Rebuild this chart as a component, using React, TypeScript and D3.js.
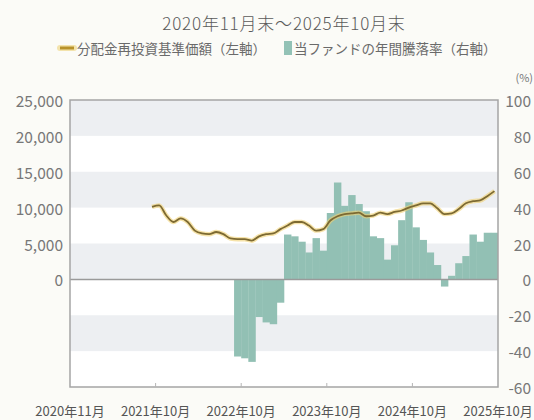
import React from "react";
import * as d3 from "d3";

const months: Date[] = d3.timeMonths(new Date(2020, 10, 1), new Date(2025, 10, 1));

// 分配金再投資基準価額 (left axis, yen) — Oct 2021 .. Oct 2025 (index 11..59)
const navStartIndex = 11;
const navValues: number[] = [
  10100, 10300, 8900, 8000, 8500, 8000, 6800, 6400, 6300, 6600, 6300, 5700, 5600,
  5600, 5400, 6000, 6300, 6400, 7000, 7500, 8000, 8000, 7500, 6800, 7000, 8200,
  8800, 9100, 9200, 9300, 8800, 8900, 9300, 9100, 9400, 9600, 10000, 10300, 10600,
  10600, 9900, 9100, 9200, 9800, 10600, 10900, 11000, 11600, 12300,
];

// 当ファンドの年間騰落率 (right axis, %) — Oct 2022 .. Oct 2025 (index 23..59)
const retStartIndex = 23;
const retValues: number[] = [
  -43, -44, -46, -21, -24, -25, -13, 25, 24, 21, 15, 23, 16, 37, 54, 41, 47, 42, 38,
  24, 23, 11, 19, 33, 43, 29, 22, 15, 8, -4, 2, 9, 13, 25, 21, 26, 26,
];

const leftTicks: number[] = [0, 5000, 10000, 15000, 20000, 25000];
const rightTicks: number[] = [100, 80, 60, 40, 20, 0, -20, -40, -60];
const xTickLabels: string[] = ["2020年11月", "2021年10月", "2022年10月", "2023年10月", "2024年10月", "2025年10月"];
const xTickMonths: string[] = ["2020-11", "2021-10", "2022-10", "2023-10", "2024-10", "2025-10"];

const title = "2020年11月末～2025年10月末";
const legendLine = "分配金再投資基準価額（左軸）";
const legendBar = "当ファンドの年間騰落率（右軸）";

const W = 534;
const H = 420;
const L = 70, R = 498, T = 100, B = 387;
const FONT = "'Noto Sans CJK JP', 'Noto Sans', sans-serif";
const fmtKey = d3.timeFormat("%Y-%m");

export default function App() {
  const x = d3.scaleBand<string>().domain(months.map(fmtKey)).range([L, R]).padding(0);
  const yL = d3.scaleLinear().domain([-15000, 25000]).range([B, T]);
  const yR = d3.scaleLinear().domain([-60, 100]).range([B, T]);
  const bw = x.bandwidth();

  const navPts = navValues.map((v, k) => ({ key: fmtKey(months[navStartIndex + k]), v }));
  const line = d3
    .line<{ key: string; v: number }>()
    .x((d) => (x(d.key) as number) + bw / 2)
    .y((d) => yL(d.v))
    .curve(d3.curveMonotoneX);
  const path = line(navPts) || "";

  const bands: [number, number][] = [];
  for (let t = 100; t > -60; t -= 40) bands.push([t, t - 20]);

  const tickX = (k: string, idx: number) =>
    idx === 0 ? (x(k) as number) : (x(k) as number) + bw;

  return (
    <svg width={W} height={H} style={{ position: "absolute", left: 0, top: 0, background: "#fbfbf7" }} fontFamily={FONT}>
      <rect x={0} y={0} width={W} height={H} fill="#fbfbf7" />
      <text x={(L + R) / 2} y={22} textAnchor="middle" dominantBaseline="central" fontSize={17} letterSpacing={0.8} fill="#5a5a5a" fontWeight={300}>
        {title}
      </text>
      {/* legend */}
      <g>
        <line x1={60} x2={74} y1={48} y2={48} stroke="#f2de9a" strokeWidth={6} strokeLinecap="round" opacity={0.8} />
        <line x1={60} x2={74} y1={48} y2={48} stroke="#b8922a" strokeWidth={3} />
        <text x={77} y={48} dominantBaseline="central" fontSize={13.5} fill="#6a6a6a">{legendLine}</text>
        <rect x={284} y={41} width={8} height={14} fill="#93c2b6" />
        <text x={294} y={48} dominantBaseline="central" fontSize={13.5} fill="#6a6a6a">{legendBar}</text>
      </g>
      {/* plot background */}
      <rect x={L} y={T} width={R - L} height={B - T} fill="#ffffff" />
      {bands.map(([a, b], i) => (
        <rect key={i} x={L} y={yR(a)} width={R - L} height={yR(b) - yR(a)} fill="#edeff2" />
      ))}
      <defs>
        <clipPath id="plotclip">
          <rect x={L} y={T} width={R - L} height={B - T} />
        </clipPath>
      </defs>
      <g clipPath="url(#plotclip)">
        {retValues.map((v, k) => {
          const key = fmtKey(months[retStartIndex + k]);
          const y0 = yR(0);
          const y1 = yR(v);
          return (
            <rect
              key={key}
              x={x(key) as number}
              width={bw + 0.3}
              y={Math.min(y0, y1)}
              height={Math.abs(y1 - y0)}
              fill="#92c0b4"
            />
          );
        })}
      </g>
      <line x1={L} x2={R} y1={yR(0)} y2={yR(0)} stroke="#9a9a9a" strokeWidth={1.5} />
      <path d={path} fill="none" stroke="#f0d070" strokeOpacity={0.6} strokeWidth={4.5} strokeLinejoin="round" />
      <path d={path} fill="none" stroke="#7d6a32" strokeWidth={1.8} strokeLinejoin="round" />
      {/* frame */}
      <rect x={L} y={T} width={R - L} height={B - T} fill="none" stroke="#a5a5a5" strokeWidth={1.5} />
      {/* x ticks */}
      {xTickMonths.map((k, i) => {
        const tx = tickX(k, i);
        return (
          <g key={k}>
            {i > 0 && i < xTickMonths.length - 1 && (
              <line x1={tx} x2={tx} y1={B} y2={B - 4} stroke="#b5b5b5" strokeWidth={1} />
            )}
            <text x={tx} y={410} textAnchor="middle" dominantBaseline="central" fontSize={13} fill="#555">
              {xTickLabels[i]}
            </text>
          </g>
        );
      })}
      {/* left axis */}
      {leftTicks.map((t) => (
        <text key={t} x={63} y={yL(t)} textAnchor="end" dominantBaseline="central" fontSize={15.5} fill="#777">
          {d3.format(",")(t)}
        </text>
      ))}
      {/* right axis */}
      {rightTicks.map((t) => (
        <text key={t} x={531} y={yR(t)} textAnchor="end" dominantBaseline="central" fontSize={15.5} fill="#777">
          {t}
        </text>
      ))}
      <text x={533} y={77} textAnchor="end" dominantBaseline="central" fontSize={11} fill="#777">(%)</text>
    </svg>
  );
}
